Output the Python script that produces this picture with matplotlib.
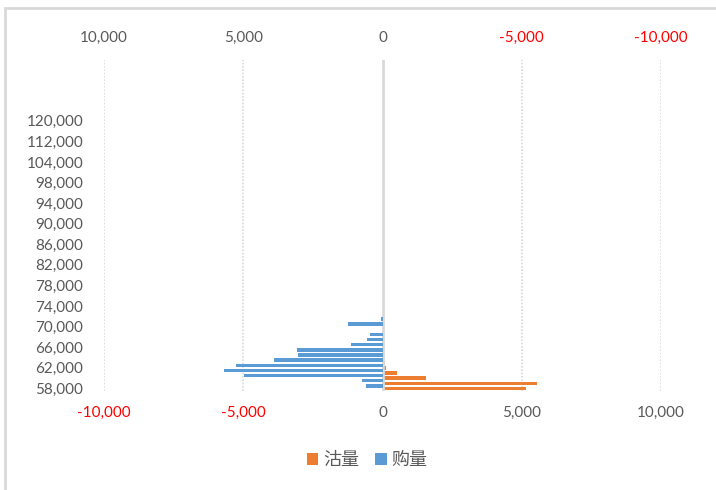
import matplotlib
matplotlib.use('Agg')
import matplotlib.pyplot as plt
from matplotlib.patches import Rectangle
import numpy as np

# price levels (category axis), bottom to top
strikes = list(range(58000, 99000, 1000)) + [99000, 100000, 102000, 104000,
                                              106000, 108000, 110000, 112000,
                                              114000, 116000, 118000, 120000]
# 沽量 (orange, bottom axis) and 购量 (blue, top reversed axis)
sell = [5170, 5560, 1560, 510, 110, 80, 40]
buy = [600, 730, 4990, 5680, 5250, 3880, 3020, 3070, 1120, 540, 440, 0, 1240, 50]
sell = sell + [0] * (len(strikes) - len(sell))
buy = buy + [0] * (len(strikes) - len(buy))

orange = '#ED7D31'
blue = '#5B9BD5'
gray_txt = '#595959'
red_txt = '#FF0000'
grid_c = '#D9D9D9'

plt.rcParams['font.family'] = ['Lato', 'Noto Sans CJK SC', 'DejaVu Sans']

fig = plt.figure(figsize=(7.16, 4.90), dpi=100)
ax = fig.add_axes([104 / 716, 1 - 391 / 490, (661 - 104) / 716, (391 - 60) / 490])
ax2 = ax.twiny()

idx = np.arange(len(strikes))
b1 = ax.barh(idx, sell, height=0.68, color=orange, zorder=3, label='沽量')
b2 = ax2.barh(idx + 0.5, buy, height=0.68, color=blue, zorder=3, label='购量')

xt = [-10000, -5000, 0, 5000, 10000]
ax.set_xlim(-10000, 10000)
ax2.set_xlim(10000, -10000)
ax.set_ylim(-0.5, 63.8)

for a, side in ((ax, 'bottom'), (ax2, 'top')):
    a.set_xticks(xt)
    a.set_xticklabels(['{:,}'.format(v) for v in xt])
    for lab, v in zip(a.get_xticklabels(), xt):
        lab.set_color(red_txt if v < 0 else gray_txt)
    for s in a.spines.values():
        s.set_visible(False)
    a.tick_params(axis='x', length=0, labelsize=11)

ax.tick_params(axis='x', pad=10.5)
ax2.tick_params(axis='x', pad=11)

# dotted vertical gridlines and solid category axis at zero
for v in xt:
    if v == 0:
        ax.axvline(v, color=grid_c, lw=2, zorder=4)
    else:
        ax.axvline(v, color=grid_c, lw=1.2, ls=(0, (1.0, 1.0)), zorder=1)

ax.set_yticks(idx[::4])
ax.set_yticklabels(['{:,}'.format(s) for s in strikes[::4]])
ax.tick_params(axis='y', length=0, labelsize=11, labelcolor=gray_txt, pad=15)

fig.legend(handles=[b1, b2], loc='center', bbox_to_anchor=(367 / 716, 1 - 460 / 490),
           ncol=2, frameon=False, handlelength=0.65, handleheight=0.65,
           handletextpad=0.25, columnspacing=0.9,
           prop={'family': ['Noto Sans CJK SC'], 'size': 13}, labelcolor=gray_txt)

# chart area border
fig.patches.append(Rectangle((5 / 716, -0.05), 1.05, 1 - 8 / 490 + 0.05,
                             transform=fig.transFigure, fill=False,
                             edgecolor=grid_c, lw=2))

fig.savefig('out.png', dpi=100)
